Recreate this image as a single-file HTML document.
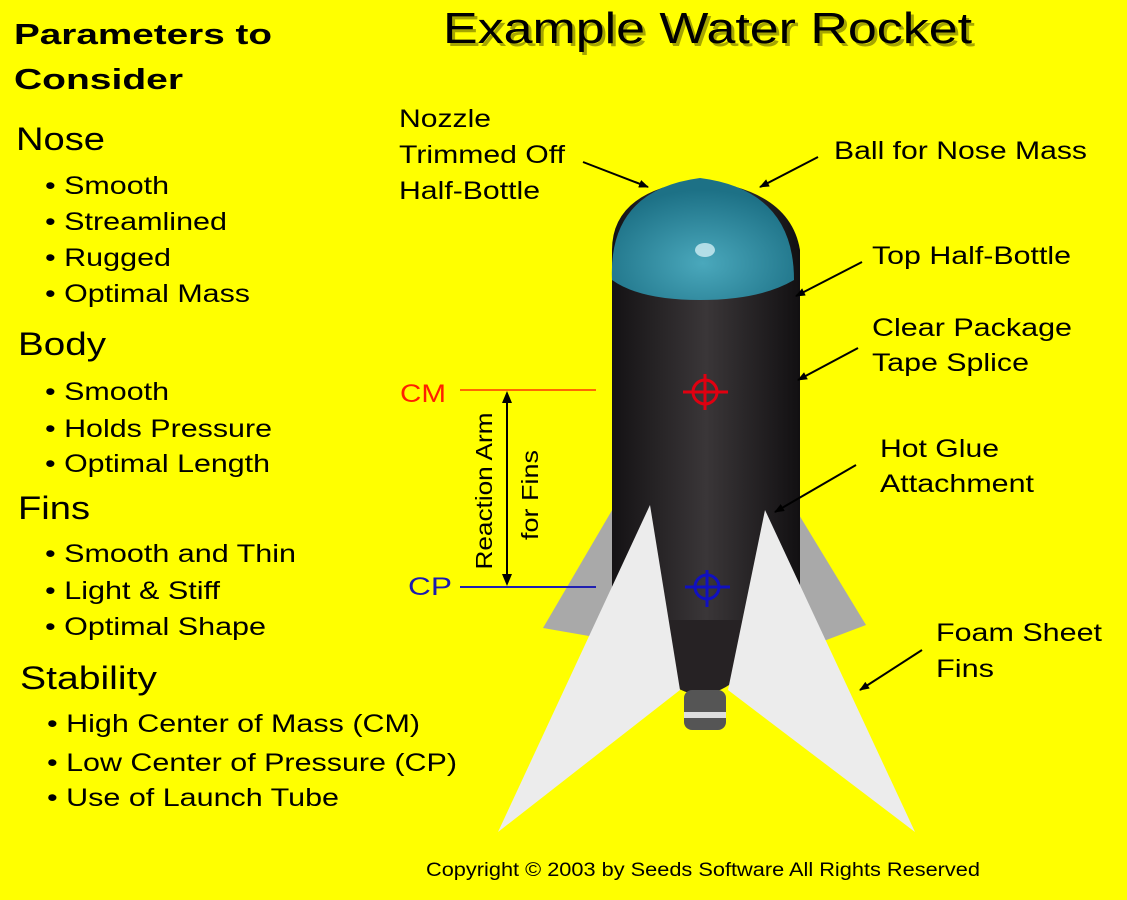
<!DOCTYPE html>
<html><head><meta charset="utf-8"><style>
body{margin:0;background:#ffff00;}
svg{display:block;font-family:"Liberation Sans",Arial,sans-serif;}
</style></head><body>
<svg width="1127" height="900" viewBox="0 0 1127 900" xmlns="http://www.w3.org/2000/svg">
<defs>
<marker id="ah" markerWidth="10" markerHeight="8" refX="9" refY="4" orient="auto" markerUnits="userSpaceOnUse"><path d="M0,0 L10,4 L0,8 z" fill="#000"/></marker>
<linearGradient id="bd" x1="0" x2="1"><stop offset="0" stop-color="#141214"/><stop offset="0.5" stop-color="#3a3638"/><stop offset="1" stop-color="#121012"/></linearGradient>
<radialGradient id="cap" cx="0.5" cy="0.7" r="0.6"><stop offset="0" stop-color="#4aa8bc"/><stop offset="1" stop-color="#1d7186"/></radialGradient>
</defs>
<rect width="1127" height="900" fill="#ffff00"/>
<text x="446" y="46" font-size="44" fill="#6a6a00" opacity="0.6" textLength="529" lengthAdjust="spacingAndGlyphs">Example Water Rocket</text>
<text x="443" y="43" font-size="44" fill="#000" textLength="529" lengthAdjust="spacingAndGlyphs">Example Water Rocket</text>
<g font-weight="bold" font-size="29" lengthAdjust="spacingAndGlyphs"><text x="14" y="44" textLength="258" lengthAdjust="spacingAndGlyphs">Parameters to</text><text x="14" y="89" textLength="169" lengthAdjust="spacingAndGlyphs">Consider</text></g>
<g font-size="32">
<text x="16" y="150" textLength="89" lengthAdjust="spacingAndGlyphs">Nose</text>
<text x="18" y="355" textLength="88" lengthAdjust="spacingAndGlyphs">Body</text>
<text x="18" y="519" textLength="72" lengthAdjust="spacingAndGlyphs">Fins</text>
<text x="20" y="689" textLength="137" lengthAdjust="spacingAndGlyphs">Stability</text></g>
<g font-size="25">
<text x="45" y="194" textLength="124" lengthAdjust="spacingAndGlyphs">• Smooth</text>
<text x="45" y="230" textLength="182" lengthAdjust="spacingAndGlyphs">• Streamlined</text>
<text x="45" y="266" textLength="126" lengthAdjust="spacingAndGlyphs">• Rugged</text>
<text x="45" y="302" textLength="205" lengthAdjust="spacingAndGlyphs">• Optimal Mass</text>
<text x="45" y="400" textLength="124" lengthAdjust="spacingAndGlyphs">• Smooth</text>
<text x="45" y="437" textLength="227" lengthAdjust="spacingAndGlyphs">• Holds Pressure</text>
<text x="45" y="472" textLength="225" lengthAdjust="spacingAndGlyphs">• Optimal Length</text>
<text x="45" y="562" textLength="251" lengthAdjust="spacingAndGlyphs">• Smooth and Thin</text>
<text x="45" y="599" textLength="175" lengthAdjust="spacingAndGlyphs">• Light &amp; Stiff</text>
<text x="45" y="635" textLength="221" lengthAdjust="spacingAndGlyphs">• Optimal Shape</text>
<text x="47" y="732" textLength="373" lengthAdjust="spacingAndGlyphs">• High Center of Mass (CM)</text>
<text x="47" y="771" textLength="410" lengthAdjust="spacingAndGlyphs">• Low Center of Pressure (CP)</text>
<text x="47" y="806" textLength="292" lengthAdjust="spacingAndGlyphs">• Use of Launch Tube</text>
<text x="399" y="127" textLength="92" lengthAdjust="spacingAndGlyphs">Nozzle</text>
<text x="399" y="163" textLength="166" lengthAdjust="spacingAndGlyphs">Trimmed Off</text>
<text x="399" y="199" textLength="141" lengthAdjust="spacingAndGlyphs">Half-Bottle</text>
<text x="834" y="159" textLength="253" lengthAdjust="spacingAndGlyphs">Ball for Nose Mass</text>
<text x="872" y="264" textLength="199" lengthAdjust="spacingAndGlyphs">Top Half-Bottle</text>
<text x="872" y="336" textLength="200" lengthAdjust="spacingAndGlyphs">Clear Package</text>
<text x="872" y="371" textLength="157" lengthAdjust="spacingAndGlyphs">Tape Splice</text>
<text x="880" y="457" textLength="119" lengthAdjust="spacingAndGlyphs">Hot Glue</text>
<text x="880" y="492" textLength="154" lengthAdjust="spacingAndGlyphs">Attachment</text>
<text x="936" y="641" textLength="166" lengthAdjust="spacingAndGlyphs">Foam Sheet</text>
<text x="936" y="677" textLength="58" lengthAdjust="spacingAndGlyphs">Fins</text>
</g>
<!-- back fins -->
<polygon points="618,500 543,628 612,640" fill="#a9a9a9"/>
<polygon points="790,500 866,625 800,650" fill="#a9a9a9"/>
<!-- body -->
<path d="M612,250 Q612,190 700,180 Q790,190 800,250 L800,610 Q795,660 730,680 L680,680 Q615,660 612,610 Z" fill="url(#bd)"/>
<path d="M650,620 Q650,690 700,695 Q752,690 760,620 Z" fill="#262224"/>
<rect x="684" y="690" width="42" height="40" rx="8" fill="#555"/>
<rect x="684" y="712" width="42" height="6" fill="#ddd"/>
<!-- cap -->
<path d="M612,280 Q608,190 700,178 Q794,190 794,280 Q760,300 700,300 Q640,300 612,280 Z" fill="url(#cap)"/>
<ellipse cx="705" cy="250" rx="10" ry="7" fill="#cfeef4" opacity="0.8"/>
<!-- front fins -->
<polygon points="650,505 498,832 680,690" fill="#ececec"/>
<polygon points="765,510 915,832 728,690" fill="#ececec"/>
<!-- targets -->
<g stroke="#e00010" stroke-width="3" fill="none"><circle cx="705" cy="392" r="12"/><line x1="683" y1="392" x2="728" y2="392"/><line x1="705" y1="374" x2="705" y2="410"/></g>
<g stroke="#1010c0" stroke-width="3" fill="none"><circle cx="707" cy="587" r="12"/><line x1="685" y1="587" x2="730" y2="587"/><line x1="707" y1="570" x2="707" y2="607"/></g>
<!-- CM CP -->
<text x="400" y="402" font-size="25" fill="#ff2000" textLength="46" lengthAdjust="spacingAndGlyphs">CM</text>
<text x="408" y="595" font-size="25" fill="#1a1ab0" textLength="44" lengthAdjust="spacingAndGlyphs">CP</text>
<line x1="460" y1="390" x2="596" y2="390" stroke="#ff6a00" stroke-width="2"/>
<line x1="460" y1="587" x2="596" y2="587" stroke="#2020b0" stroke-width="2"/>
<line x1="507" y1="398" x2="507" y2="580" stroke="#000" stroke-width="2"/>
<polygon points="507,391 502,403 512,403" fill="#000"/><polygon points="507,586 502,574 512,574" fill="#000"/>
<text transform="translate(492,491) rotate(-90)" font-size="23" text-anchor="middle" textLength="157" lengthAdjust="spacingAndGlyphs">Reaction Arm</text>
<text transform="translate(538,495) rotate(-90)" font-size="23" text-anchor="middle" textLength="90" lengthAdjust="spacingAndGlyphs">for Fins</text>
<!-- arrows -->
<g stroke="#000" stroke-width="2" marker-end="url(#ah)">
<line x1="583" y1="162" x2="648" y2="187"/>
<line x1="818" y1="157" x2="760" y2="187"/>
<line x1="862" y1="262" x2="796" y2="296"/>
<line x1="858" y1="348" x2="798" y2="380"/>
<line x1="856" y1="465" x2="775" y2="512"/>
<line x1="922" y1="650" x2="860" y2="690"/>
</g>
<text x="426" y="876" font-size="19" textLength="554" lengthAdjust="spacingAndGlyphs">Copyright © 2003 by Seeds Software All Rights Reserved</text>
</svg>
</body></html>
